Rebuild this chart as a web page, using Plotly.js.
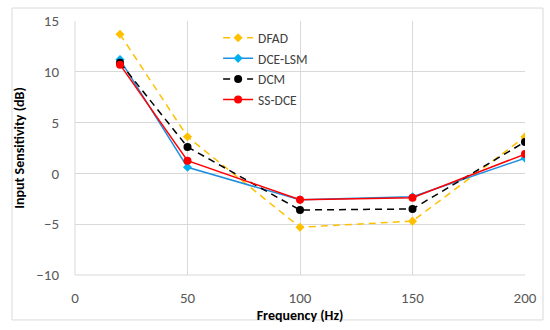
<!DOCTYPE html>
<html>
<head>
<meta charset="utf-8">
<script src="https://cdn.plot.ly/plotly-3.0.1.min.js"></script>
<style>html,body{margin:0;padding:0;background:#fff;}#chart{width:550px;height:330px;}</style>
</head>
<body>
<div id="chart"></div>
<script>
const freq = [20, 50, 100, 150, 200];
const dfad = [13.7, 3.6, -5.3, -4.7, 3.6];
const dceLsm = [11.2, 0.6, -2.6, -2.3, 1.5];
const dcm = [10.9, 2.6, -3.6, -3.5, 3.1];
const ssDce = [10.7, 1.25, -2.6, -2.4, 1.9];
const names = ['DFAD', 'DCE-LSM', 'DCM', 'SS-DCE'];

const FONT = 'Calibri, Carlito, Lato, "Open Sans", sans-serif';

const traces = [
  {x: freq, y: dfad, name: names[0], mode: 'lines+markers',
   line: {color: '#FFC000', width: 1.5, dash: '7px,5px'},
   marker: {symbol: 'diamond', size: 7, color: '#FFC000'}},
  {x: freq, y: dceLsm, name: names[1], mode: 'lines+markers',
   line: {color: '#1f8ee0', width: 1.5},
   marker: {symbol: 'diamond', size: 7, color: '#00B0F0'}},
  {x: freq, y: dcm, name: names[2], mode: 'lines+markers',
   line: {color: '#000000', width: 1.5, dash: '7px,5px'},
   marker: {symbol: 'circle', size: 8, color: '#000000'}},
  {x: freq, y: ssDce, name: names[3], mode: 'lines+markers',
   line: {color: '#FF0000', width: 1.5},
   marker: {symbol: 'circle', size: 8, color: '#FF0000'}}
];

const layout = {
  width: 550, height: 330,
  margin: {l: 75, r: 25, t: 21, b: 55},
  paper_bgcolor: '#ffffff', plot_bgcolor: '#ffffff',
  font: {family: FONT, size: 15, color: '#595959'},
  showlegend: true,
  legend: {x: 0.318, y: 0.994, xanchor: 'left', yanchor: 'top',
    bgcolor: 'rgba(0,0,0,0)', font: {size: 13.5, color: '#404040'},
    tracegroupgap: 0, itemwidth: 30},
  xaxis: {range: [0, 200], dtick: 50, tick0: 0, showgrid: true,
    gridcolor: '#d9d9d9', gridwidth: 1, zeroline: false, showline: false,
    ticks: 'outside', ticklen: 9, tickcolor: 'rgba(0,0,0,0)',
    tickfont: {size: 15, color: '#595959'},
    title: {text: 'Frequency (Hz)', font: {size: 14, color: '#000000', family: FONT, weight: 'bold'}, standoff: 0}},
  yaxis: {range: [-10, 15], dtick: 5, tick0: -10, showgrid: true,
    gridcolor: '#d9d9d9', gridwidth: 1, zeroline: false, showline: false,
    ticks: 'outside', ticklen: 12, tickcolor: 'rgba(0,0,0,0)',
    tickfont: {size: 15, color: '#595959'},
    title: {text: 'Input Sensitivity (dB)', font: {size: 14, color: '#000000', family: FONT, weight: 'bold'}, standoff: 8}},
  shapes: [
    {type: 'rect', xref: 'paper', yref: 'paper', x0: -0.14, x1: 1.04, y0: -0.177, y1: 1.051,
     line: {color: '#d9d9d9', width: 1}, fillcolor: 'rgba(0,0,0,0)', layer: 'below'},
    {type: 'line', xref: 'paper', yref: 'paper', x0: 0, x1: 0, y0: 0, y1: 1,
     line: {color: '#d9d9d9', width: 1}, layer: 'below'},
    {type: 'line', xref: 'paper', yref: 'paper', x0: 0, x1: 1, y0: 0, y1: 0,
     line: {color: '#d9d9d9', width: 1}, layer: 'below'}
  ]
};

Plotly.newPlot('chart', traces, layout, {displayModeBar: false, staticPlot: true});
</script>
</body>
</html>
